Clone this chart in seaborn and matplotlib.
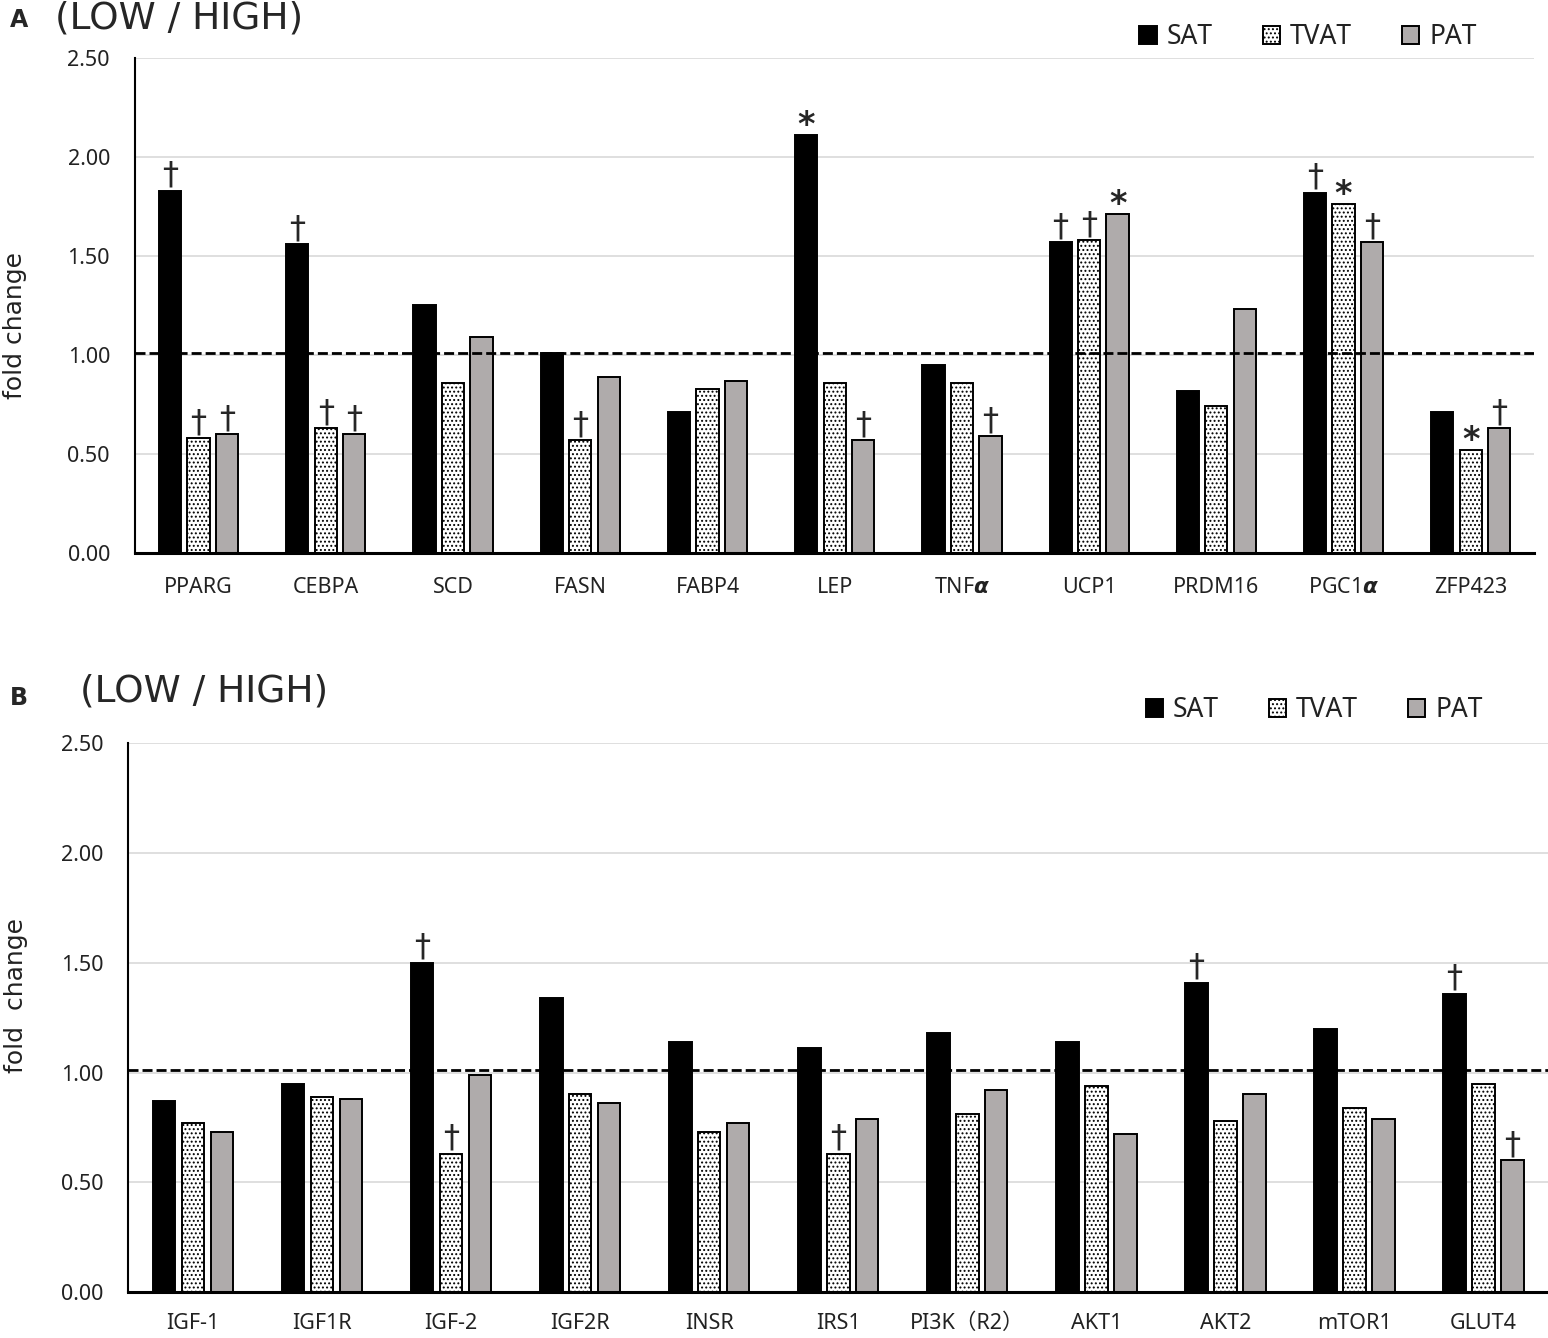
import numpy as np
import pandas as pd
import matplotlib
matplotlib.use("Agg")
import matplotlib.pyplot as plt
import seaborn as sns

# ---- data (LOW / HIGH fold change) ----
groups = ["SAT", "TVAT", "PAT"]

genes_a = ["PPARG", "CEBPA", "SCD", "FASN", "FABP4", "LEP", "TNF$\\boldsymbol{\\alpha}$",
           "UCP1", "PRDM16", "PGC1$\\boldsymbol{\\alpha}$", "ZFP423"]
sat_a = [1.83, 1.56, 1.25, 1.01, 0.71, 2.11, 0.95, 1.57, 0.82, 1.82, 0.71]
tvat_a = [0.58, 0.63, 0.86, 0.57, 0.83, 0.86, 0.86, 1.58, 0.74, 1.76, 0.52]
pat_a = [0.60, 0.60, 1.09, 0.89, 0.87, 0.57, 0.59, 1.71, 1.23, 1.57, 0.63]

genes_b = ["IGF-1", "IGF1R", "IGF-2", "IGF2R", "INSR", "IRS1", "PI3K（R2）",
           "AKT1", "AKT2", "mTOR1", "GLUT4"]
sat_b = [0.87, 0.95, 1.50, 1.34, 1.14, 1.11, 1.18, 1.14, 1.41, 1.20, 1.36]
tvat_b = [0.77, 0.89, 0.63, 0.90, 0.73, 0.63, 0.81, 0.94, 0.78, 0.84, 0.95]
pat_b = [0.73, 0.88, 0.99, 0.86, 0.77, 0.79, 0.92, 0.72, 0.90, 0.79, 0.60]

# significance marks: (gene index, group index, symbol)
marks_a = [(0, 0, "†"), (0, 1, "†"), (0, 2, "†"),
           (1, 0, "†"), (1, 1, "†"), (1, 2, "†"),
           (3, 1, "†"), (5, 0, "*"), (5, 2, "†"), (6, 2, "†"),
           (7, 0, "†"), (7, 1, "†"), (7, 2, "*"),
           (9, 0, "†"), (9, 1, "*"), (9, 2, "†"),
           (10, 1, "*"), (10, 2, "†")]
marks_b = [(2, 0, "†"), (2, 1, "†"), (5, 1, "†"), (8, 0, "†"),
           (10, 0, "†"), (10, 2, "†")]

reference = 1.01
yticks = [0.0, 0.5, 1.0, 1.5, 2.0, 2.5]

palette = {"SAT": "black", "TVAT": "white", "PAT": "#afabab"}

sns.set_theme(style="white")
plt.rcParams["font.family"] = ["Noto Sans", "Noto Sans CJK JP", "DejaVu Sans"]
plt.rcParams["mathtext.fontset"] = "dejavusans"
plt.rcParams["hatch.linewidth"] = 0.9


def long_table(genes, sat, tvat, pat):
    rows = []
    for g, a, b, c in zip(genes, sat, tvat, pat):
        rows.append((g, "SAT", a))
        rows.append((g, "TVAT", b))
        rows.append((g, "PAT", c))
    return pd.DataFrame(rows, columns=["gene", "tissue", "fold"])


def draw_panel(ax, df, genes, marks, tick_pad):
    sns.barplot(data=df, x="gene", y="fold", hue="tissue", order=genes,
                hue_order=groups, palette=palette, saturation=1,
                width=0.672, gap=0.22, errorbar=None, edgecolor="black",
                linewidth=1.4, legend=False, ax=ax, zorder=2)
    for p in ax.containers[1]:
        p.set_hatch("....")
    ax.axhline(reference, color="black", lw=2.0, ls=(0, (3.6, 1.45)), zorder=3)
    ax.set_ylim(0, 2.5)
    ax.set_xlim(-0.5, len(genes) - 0.5)
    ax.set_yticks(yticks)
    ax.set_yticklabels([f"{t:.2f}" for t in yticks])
    ax.yaxis.grid(True, color="#d9d9d9", lw=1.2, zorder=0)
    ax.xaxis.grid(False)
    ax.set_axisbelow(True)
    ax.set_xlabel("")
    for s in ["top", "right"]:
        ax.spines[s].set_visible(False)
    ax.spines["left"].set_color("black")
    ax.spines["left"].set_linewidth(1.5)
    ax.spines["bottom"].set_color("black")
    ax.spines["bottom"].set_linewidth(2.2)
    ax.tick_params(axis="y", length=0, pad=18, labelsize=15.5, colors="#222222")
    ax.tick_params(axis="x", length=0, pad=tick_pad, labelsize=15.5, colors="#222222")
    for gi, hi, sym in marks:
        p = ax.containers[hi][gi]
        x = p.get_x() + p.get_width() / 2
        y = p.get_height()
        if sym == "*":
            ax.annotate(sym, (x, y), xytext=(0, 0), textcoords="offset points",
                        ha="center", va="baseline", fontsize=24,
                        fontweight="bold", family="DejaVu Sans", zorder=4)
        else:
            ax.annotate(sym, (x, y), xytext=(0, 5), textcoords="offset points",
                        ha="center", va="baseline", fontsize=23,
                        family="DejaVu Sans", zorder=4)


fig = plt.figure(figsize=(15.48, 13.38), dpi=100)

ax_a = fig.add_axes([0.0872, 0.5867, 0.904, 0.370])
draw_panel(ax_a, long_table(genes_a, sat_a, tvat_a, pat_a), genes_a, marks_a, 17)
ax_a.set_ylabel("fold change", family="DejaVu Sans", fontsize=18, color="#222222")
ax_a.yaxis.set_label_coords(-0.077, 0.46)

ax_b = fig.add_axes([0.083, 0.0344, 0.917, 0.410])
draw_panel(ax_b, long_table(genes_b, sat_b, tvat_b, pat_b), genes_b, marks_b, 15)
ax_b.set_ylabel("fold  change", family="DejaVu Sans", fontsize=18, color="#222222")
ax_b.yaxis.set_label_coords(-0.071, 0.54)

# panel letters and titles
fig.text(0.0065, 0.980, "A", fontsize=17, fontweight="bold", family="DejaVu Sans", va="baseline")
fig.text(0.0065, 0.473, "B", fontsize=17, fontweight="bold", family="DejaVu Sans", va="baseline")
fig.text(0.0355, 0.9785, "(LOW / HIGH)", fontsize=27, family="DejaVu Sans", va="baseline")
fig.text(0.0515, 0.4755, "(LOW / HIGH)", fontsize=27, family="DejaVu Sans", va="baseline")

legend_kw = dict(loc="center", ncol=3, frameon=False, fontsize=19,
                 handlelength=0.65, handleheight=0.68, handletextpad=0.38,
                 columnspacing=1.9, borderpad=0, labelcolor="#222222")
fig.legend(ax_a.containers, groups, bbox_to_anchor=(0.845, 0.972), **legend_kw)
fig.legend(ax_b.containers, groups, bbox_to_anchor=(0.849, 0.469), **legend_kw)

fig.savefig("out.png", dpi=100)
